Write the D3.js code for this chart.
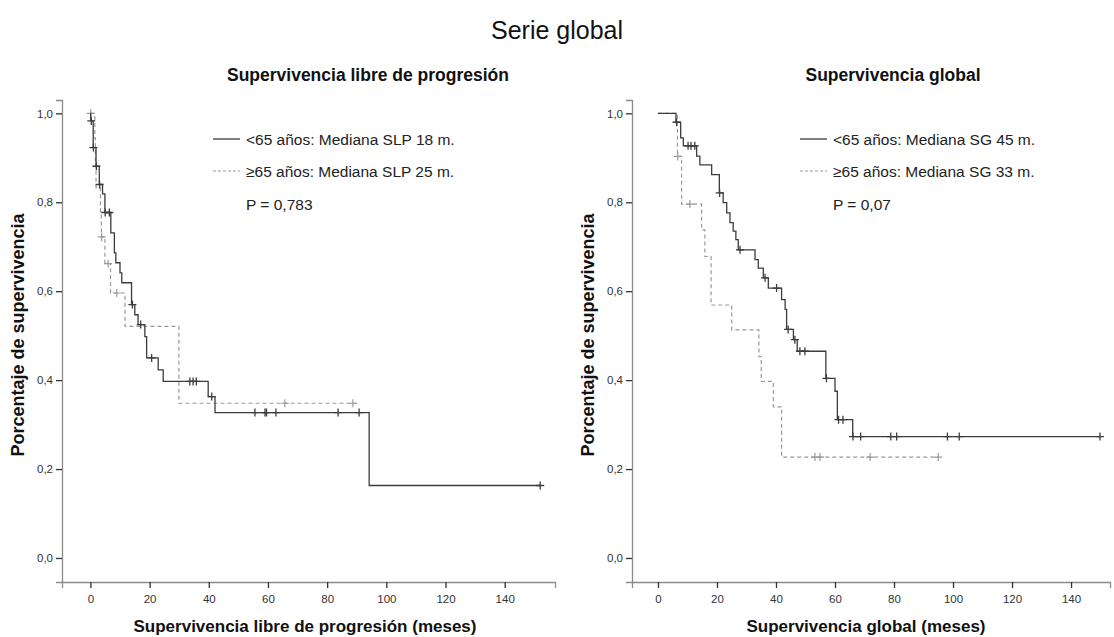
<!DOCTYPE html>
<html>
<head>
<meta charset="utf-8">
<script src="https://cdn.jsdelivr.net/npm/d3@7"></script>
<style>
  body { margin: 0; background: #fff; }
  text { font-family: "Liberation Sans", Arial, sans-serif; }
</style>
</head>
<body>
<svg id="chart" width="1114" height="637"></svg>
<script>
// Kaplan-Meier steps: [month, survival proportion] at each event
const pfsYoungSteps = [[0,1],[0.1,0.983],[0.95,0.923],[1.9,0.881],[3.0,0.840],[4.1,0.819],[4.9,0.777],
  [6.9,0.731],[8.1,0.686],[8.6,0.664],[10.0,0.641],[10.6,0.619],[13.9,0.570],[15.0,0.547],[16.1,0.525],
  [18.4,0.498],[19.0,0.450],[22.9,0.423],[24.6,0.397],[39.8,0.363],[42.1,0.327],[94.2,0.163]];
const pfsYoungCensored = [0.3,1.0,2.0,3.1,5.0,6.4,14.2,17.0,20.7,33.6,34.7,35.8,41.0,
  55.6,59.0,59.5,62.7,83.7,90.8,152];
const pfsYoungEnd = 152;

const pfsOldSteps = [[0,1],[1.5,0.944],[1.7,0.889],[1.9,0.833],[3.4,0.778],[3.7,0.722],[4.9,0.662],
  [6.8,0.596],[11.7,0.521],[29.9,0.348]];
const pfsOldCensored = [0.1,3.8,6.0,8.9,65.7,88.7];
const pfsOldEnd = 90;

const osYoungSteps = [[0,1],[6.1,0.980],[7.7,0.945],[8.6,0.927],[13.1,0.904],[14.2,0.884],[18.2,0.862],
  [20.8,0.821],[22.1,0.799],[23.3,0.776],[24.4,0.754],[25.5,0.735],[26.4,0.716],[27.2,0.693],
  [32.9,0.671],[34.0,0.652],[35.7,0.630],[37.4,0.607],[41.9,0.581],[43.1,0.559],[43.6,0.514],
  [45.9,0.491],[47.2,0.465],[56.9,0.404],[60.0,0.375],[60.8,0.311],[66.0,0.273]];
const osYoungCensored = [6.3,10.2,11.2,12.5,20.9,27.8,36.3,40.2,44.1,46.4,48.1,49.8,57.1,
  61.2,62.7,66.1,68.7,78.9,80.9,98.1,102.1,149.8];
const osYoungEnd = 149.8;

const osOldSteps = [[0,1],[6.6,0.903],[8.0,0.796],[14.8,0.738],[15.9,0.678],[18.0,0.569],[25.0,0.513],
  [34.2,0.453],[35.0,0.397],[39.1,0.340],[41.9,0.227]];
const osOldCensored = [6.7,10.8,53.2,54.9,71.9,95.0];
const osOldEnd = 95.0;

const xTickValues = [0,20,40,60,80,100,120,140];
const yTickValues = [0,0.2,0.4,0.6,0.8,1.0];

const legendPfs = ["<65 años: Mediana SLP 18 m.", "\u226565 años: Mediana SLP 25 m.", "P = 0,783"];
const legendOs  = ["<65 años: Mediana SG 45 m.",  "\u226565 años: Mediana SG 33 m.",  "P = 0,07"];

const svg = d3.select("#chart");
const fmtComma = d => d3.format(".1f")(d).replace(".", ",");

svg.append("text").attr("x", 557).attr("y", 39).attr("text-anchor", "middle")
  .attr("font-size", 25).attr("fill", "#111").text("Serie global");

const yScale = d3.scaleLinear().domain([-0.054, 1.03]).range([582, 100]);

function stepAt(steps, t) {
  let s = steps[0][1];
  for (const [tt, v] of steps) { if (tt <= t) s = v; }
  return s;
}

function drawPanel(cfg) {
  const g = svg.append("g");
  const x = d3.scaleLinear().domain(cfg.xDomain).range(cfg.xRange);
  const axisX = cfg.xRange[0];

  // axes
  const yAxis = g.append("g").attr("transform", `translate(${axisX},0)`)
    .call(d3.axisLeft(yScale).tickValues(yTickValues).tickFormat(fmtComma).tickSizeOuter(0).tickSize(6));
  const xAxis = g.append("g").attr("transform", `translate(0,582)`)
    .call(d3.axisBottom(x).tickValues(xTickValues).tickSizeOuter(0).tickSize(6));
  [yAxis, xAxis].forEach(a => {
    a.select(".domain").attr("stroke", "#8a8a8a").attr("stroke-width", 1.3);
    a.selectAll(".tick line").attr("stroke", "#333").attr("stroke-width", 1.3);
    a.selectAll(".tick text").attr("font-size", 11.5).attr("fill", "#333")
      .attr("font-family", '"Liberation Sans", Arial, sans-serif');
  });
  xAxis.selectAll(".tick text").attr("dy", "1.05em");

  // titles
  g.append("text").attr("x", cfg.titleX).attr("y", 81).attr("text-anchor", "middle")
    .attr("font-size", 17.5).attr("font-weight", "bold").attr("fill", "#111").text(cfg.title);
  g.append("text").attr("x", cfg.xLabelX).attr("y", 632).attr("text-anchor", "middle")
    .attr("font-size", 17).attr("font-weight", "bold").attr("fill", "#111").text(cfg.xLabel);
  g.append("text").attr("transform", `translate(${cfg.yLabelX},335) rotate(-90)`)
    .attr("text-anchor", "middle").attr("font-size", 18).attr("font-weight", "bold")
    .attr("fill", "#111").text("Porcentaje de supervivencia");

  const line = d3.line().x(d => x(d[0])).y(d => yScale(d[1])).curve(d3.curveStepAfter);

  function curve(steps, end, censored, style) {
    const pts = steps.concat([[end, steps[steps.length - 1][1]]]);
    g.append("path").attr("d", line(pts)).attr("fill", "none")
      .attr("stroke", style.color).attr("stroke-width", style.width)
      .attr("stroke-dasharray", style.dash);
    g.append("g").selectAll("path").data(censored).join("path")
      .attr("d", t => {
        const cx = x(t), cy = yScale(stepAt(steps, t));
        return `M${cx - 4},${cy}h8M${cx},${cy - 4}v8`;
      })
      .attr("stroke", style.color).attr("stroke-width", style.width).attr("fill", "none");
  }
  const solid = { color: "#3c3c3c", width: 1.3, dash: null };
  const dashed = { color: "#9a9a9a", width: 1.2, dash: "4,3" };
  curve(cfg.oldSteps, cfg.oldEnd, cfg.oldCensored, dashed);
  curve(cfg.youngSteps, cfg.youngEnd, cfg.youngCensored, solid);

  // legend
  const lx = cfg.legendX;
  g.append("line").attr("x1", lx).attr("x2", lx + 27).attr("y1", 139).attr("y2", 139)
    .attr("stroke", solid.color).attr("stroke-width", 1.3);
  g.append("line").attr("x1", lx).attr("x2", lx + 27).attr("y1", 171).attr("y2", 171)
    .attr("stroke", dashed.color).attr("stroke-width", 1.2).attr("stroke-dasharray", "3,2");
  [145, 177, 210].forEach((yy, i) => {
    g.append("text").attr("x", lx + 33).attr("y", yy).attr("font-size", 15.5)
      .attr("fill", "#222").text(cfg.legend[i]);
  });
}

drawPanel({
  xDomain: [-9.6, 157], xRange: [62, 555],
  title: "Supervivencia libre de progresión", titleX: 368,
  xLabelX: 305, yLabelX: 24,
  xLabel: "Supervivencia libre de progresión (meses)",
  youngSteps: pfsYoungSteps, youngEnd: pfsYoungEnd, youngCensored: pfsYoungCensored,
  oldSteps: pfsOldSteps, oldEnd: pfsOldEnd, oldCensored: pfsOldCensored,
  legendX: 213, legend: legendPfs
});

drawPanel({
  xDomain: [-8.8, 153.2], xRange: [632, 1110],
  title: "Supervivencia global", titleX: 893,
  xLabelX: 866, yLabelX: 594,
  xLabel: "Supervivencia global (meses)",
  youngSteps: osYoungSteps, youngEnd: osYoungEnd, youngCensored: osYoungCensored,
  oldSteps: osOldSteps, oldEnd: osOldEnd, oldCensored: osOldCensored,
  legendX: 800, legend: legendOs
});
</script>
</body>
</html>
